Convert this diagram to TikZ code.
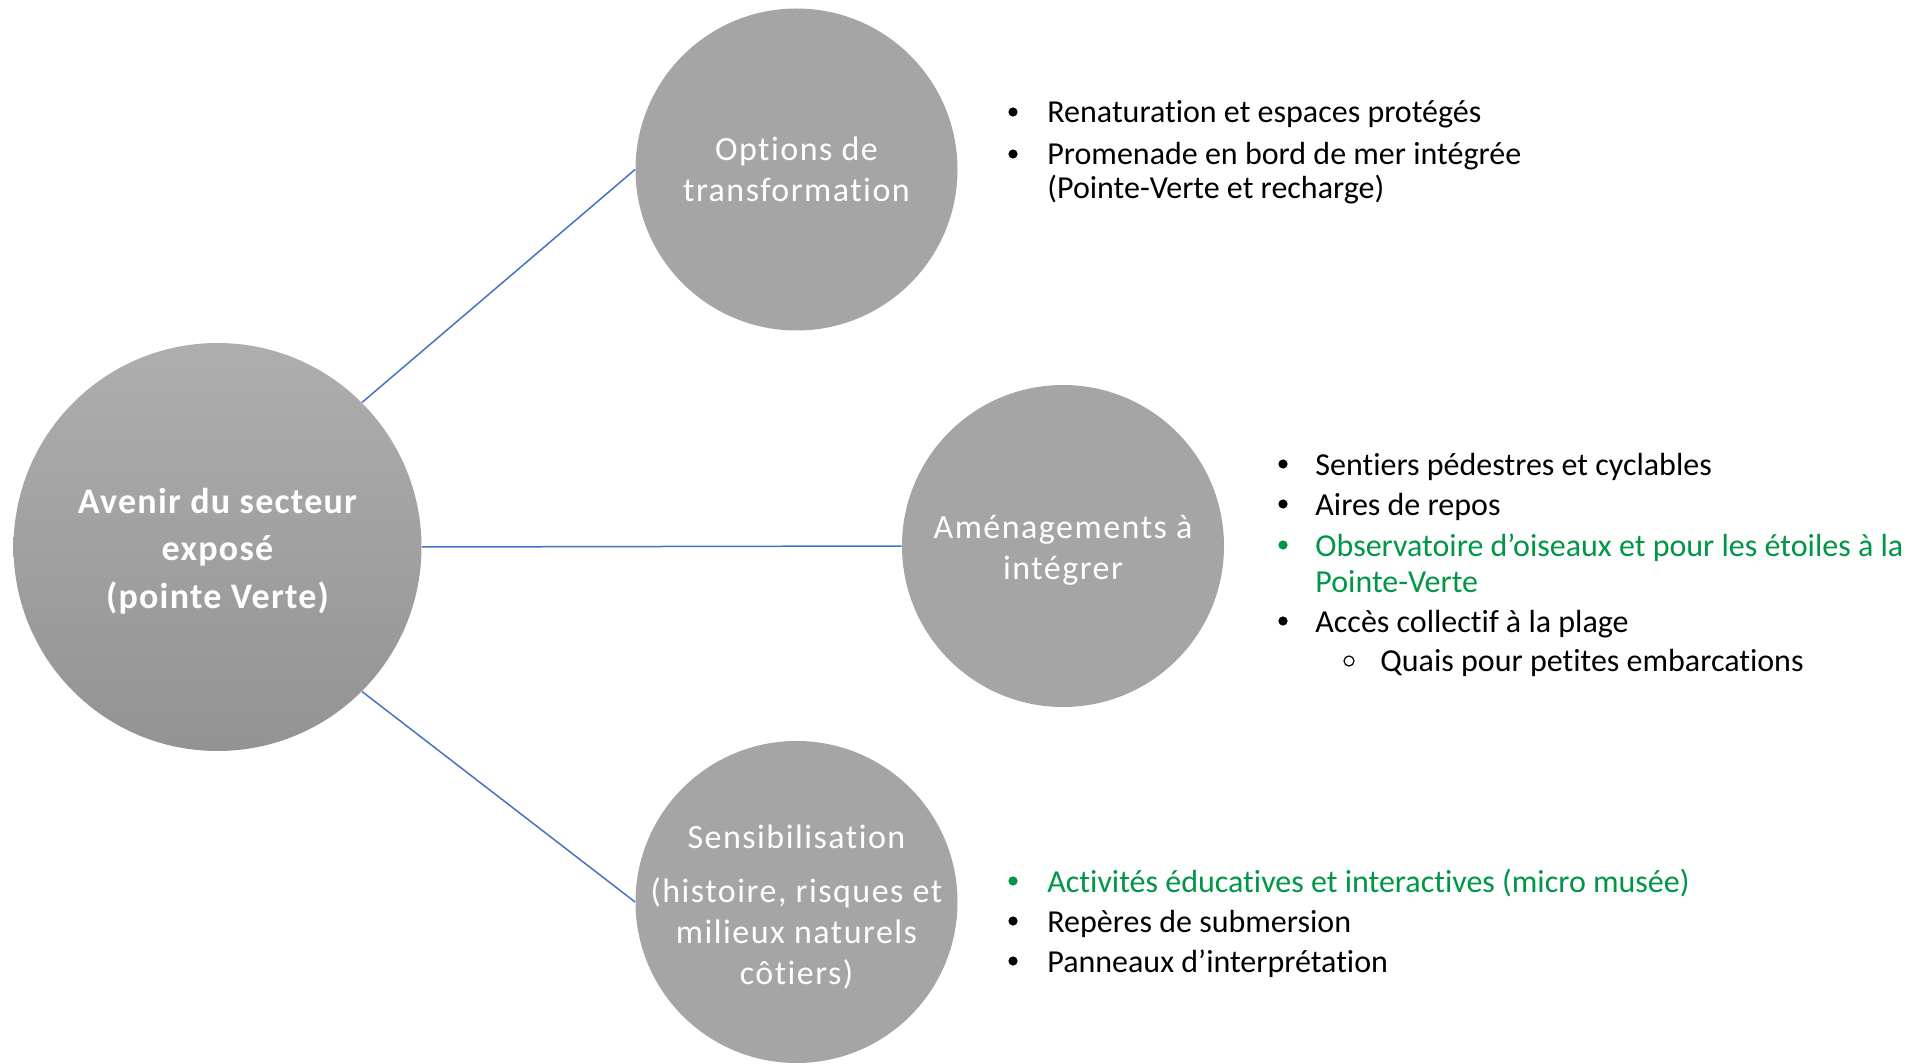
\documentclass[tikz,border=0pt]{standalone}
\usepackage{fontspec}
\setmainfont{Carlito}[Ligatures=NoCommon]
\newfontfamily\circfont{Carlito}[LetterSpace=4.4,Ligatures=NoCommon]
\newfontfamily\bigfont{Carlito}[LetterSpace=3.5,Ligatures=NoCommon]
\definecolor{cgray}{HTML}{A5A5A5}
\definecolor{ctop}{HTML}{AEAEAE}
\definecolor{cbot}{HTML}{939393}
\definecolor{cline}{HTML}{4472C4}
\definecolor{cgreen}{RGB}{0,150,70}
\begin{document}
\begin{tikzpicture}[x=0.5pt,y=-0.5pt,
  small/.style={circle,fill=cgray,draw=none,minimum size=161pt,inner sep=0pt},
  big/.style={circle,top color=ctop,bottom color=cbot,draw=none,minimum size=204pt,inner sep=0pt},
  ctext/.style={text=white,align=center,inner sep=0pt,font=\circfont\fontsize{17}{20.5}\selectfont},
  bigtext/.style={text=white,align=center,inner sep=0pt,font=\bigfont\bfseries\fontsize{18}{23.75}\selectfont},
  conn/.style={draw=cline,line width=0.75pt},
  item/.style={anchor=base west,inner sep=0pt,font=\fontsize{16}{17}\selectfont},
  bul/.style={circle,fill=black,inner sep=0pt,minimum size=4.6pt},
  gbul/.style={circle,fill=cgreen,inner sep=0pt,minimum size=4.6pt},
  obul/.style={circle,draw=black,line width=0.6pt,inner sep=0pt,minimum size=5pt}]
\useasboundingbox (0,0) rectangle (1913,1064);
% circles
\node[big] (avenir) at (217.5,547) {};
\node[small] (opt) at (796.5,169.5) {};
\node[small] (amen) at (1063,546) {};
\node[small] (sens) at (796.5,902) {};
% circle texts
\node[bigtext] (avenirt) at ([yshift=-2pt]avenir.center) {Avenir du secteur\\exposé\\(pointe Verte)};
\node[ctext] (optt) at (opt.center) {Options de\\transformation};
\node[ctext] (ament) at ([yshift=-2pt]amen.center) {Aménagements à\\intégrer};
\node[ctext] (senst) at ([yshift=-2.7pt]sens.center) {Sensibilisation\\[6.5pt](histoire, risques et\\milieux naturels\\côtiers)};
% connectors
\draw[conn] (avenir.45) -- (opt.west);
\draw[conn] (avenir.east) -- (amen.west);
\draw[conn] (avenir.-45) -- (sens.west);
% list 1
\node[bul] (b11) at (1013,112) {};
\node[item] (t11) at (1047,123) {Renaturation et espaces protégés};
\node[bul] (b12) at (1013,154) {};
\node[item] (t12) at (1047,165) {Promenade en bord de mer intégrée};
\node[item] (t12b) at (1047,199) {(Pointe-Verte et recharge)};
% list 2
\node[bul] (b21) at (1283,464) {};
\node[item] (t21) at (1315,475) {Sentiers pédestres et cyclables};
\node[bul] (b22) at (1283,504) {};
\node[item] (t22) at (1315,515) {Aires de repos};
\node[gbul] (b23) at (1283,545) {};
\node[item,text=cgreen] (t23) at (1315,556) {Observatoire d’oiseaux et pour les étoiles à la};
\node[item,text=cgreen] (t23b) at (1315,592) {Pointe-Verte};
\node[bul] (b24) at (1283,621) {};
\node[item] (t24) at (1315,632) {Accès collectif à la plage};
\node[obul] (b25) at (1349,661) {};
\node[item] (t25) at (1380,671) {Quais pour petites embarcations};
% list 3
\node[gbul] (b31) at (1013,881) {};
\node[item,text=cgreen] (t31) at (1047,892) {Activités éducatives et interactives (micro musée)};
\node[bul] (b32) at (1013,921) {};
\node[item] (t32) at (1047,932) {Repères de submersion};
\node[bul] (b33) at (1013,961) {};
\node[item] (t33) at (1047,972) {Panneaux d’interprétation};
\end{tikzpicture}
\end{document}
